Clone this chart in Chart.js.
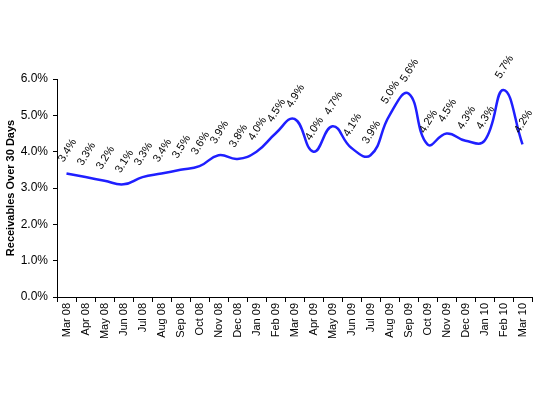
<!DOCTYPE html>
<html>
<head>
<meta charset="utf-8">
<script src="https://cdn.jsdelivr.net/npm/chart.js@4/dist/chart.umd.min.js"></script>
<style>
  html, body { margin: 0; padding: 0; background: #fff; }
  #wrap { width: 540px; height: 395px; }
</style>
</head>
<body>
<div id="wrap"><canvas id="chart" width="540" height="395"></canvas></div>
<script>
// Month labels and receivables over 30 days (%)
const months = ["Mar 08", "Apr 08", "May 08", "Jun 08", "Jul 08", "Aug 08", "Sep 08", "Oct 08",
  "Nov 08", "Dec 08", "Jan 09", "Feb 09", "Mar 09", "Apr 09", "May 09", "Jun 09", "Jul 09",
  "Aug 09", "Sep 09", "Oct 09", "Nov 09", "Dec 09", "Jan 10", "Feb 10", "Mar 10"];
const receivables = [3.4, 3.3, 3.2, 3.1, 3.3, 3.4, 3.5, 3.6, 3.9, 3.8, 4.0, 4.5, 4.9,
  4.0, 4.7, 4.1, 3.9, 5.0, 5.6, 4.2, 4.5, 4.3, 4.3, 5.7, 4.2];
const yTicks = [0, 1, 2, 3, 4, 5, 6];

const FONT = "'Liberation Sans', Arial, sans-serif";

// draws the rotated value labels above each point
const valueLabels = {
  id: "valueLabels",
  afterDatasetsDraw(chart) {
    const ctx = chart.ctx;
    const meta = chart.getDatasetMeta(0);
    ctx.save();
    ctx.font = "11px " + FONT;
    ctx.fillStyle = "#000";
    ctx.textAlign = "center";
    ctx.textBaseline = "middle";
    meta.data.forEach((pt, i) => {
      ctx.save();
      ctx.translate(pt.x + 1, pt.y - 23);
      ctx.rotate(-58 * Math.PI / 180);
      ctx.fillText(receivables[i].toFixed(1) + "%", 0, 0);
      ctx.restore();
    });
    ctx.restore();
  }
};

new Chart(document.getElementById("chart"), {
  type: "line",
  data: {
    labels: months,
    datasets: [{
      data: receivables,
      borderColor: "#1f1fff",
      borderWidth: 2.5,
      pointRadius: 0,
      tension: 0.45,
      fill: false
    }]
  },
  options: {
    responsive: false,
    animation: false,
    layout: { padding: { top: 79, right: 8, bottom: 0, left: 0 } },
    plugins: { legend: { display: false }, tooltip: { enabled: false } },
    scales: {
      x: {
        offset: true,
        grid: { offset: true, drawOnChartArea: false, tickLength: 5, color: "#000" },
        border: { color: "#000", width: 1 },
        ticks: {
          color: "#000",
          font: { family: FONT, size: 11 },
          minRotation: 90,
          maxRotation: 90,
          autoSkip: false,
          padding: 1
        },
        afterFit(scale) { scale.height = 98; }
      },
      y: {
        min: 0,
        max: 6,
        afterBuildTicks(scale) { scale.ticks = yTicks.map(v => ({ value: v })); },
        grid: { drawOnChartArea: false, tickLength: 4, color: "#000" },
        border: { color: "#000", width: 1 },
        ticks: {
          color: "#000",
          font: { family: FONT, size: 12 },
          padding: 5,
          callback: v => v.toFixed(1) + "%"
        },
        title: {
          display: true,
          text: "Receivables Over 30 Days",
          color: "#000",
          font: { family: FONT, size: 11, weight: "bold" },
          padding: { top: 4, bottom: 0 }
        },
        afterFit(scale) { scale.width = 57; }
      }
    }
  },
  plugins: [valueLabels]
});
</script>
</body>
</html>
